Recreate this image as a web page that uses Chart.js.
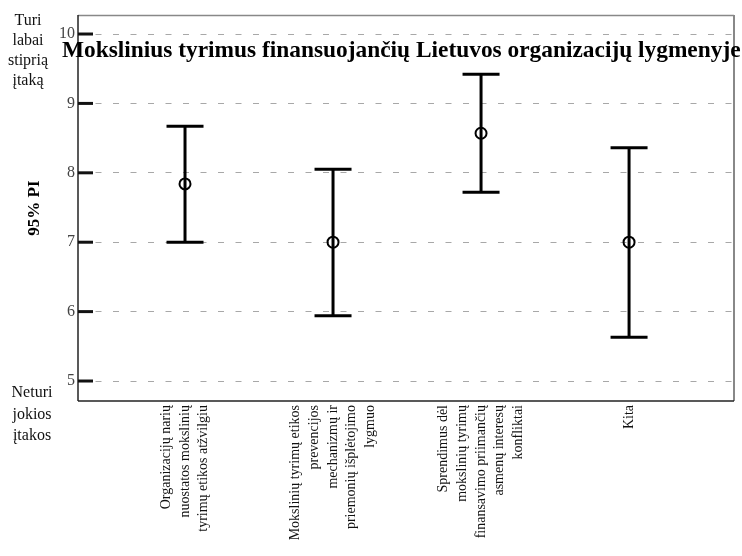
<!DOCTYPE html>
<html><head><meta charset="utf-8">
<script src="https://cdn.jsdelivr.net/npm/chart.js@4"></script>
<style>html,body{margin:0;padding:0;background:#fff}canvas{display:block}</style>
</head><body>
<canvas id="c" width="742" height="556"></canvas>
<script>
const chartTitle = "Mokslinius tyrimus finansuojančių Lietuvos organizacijų lygmenyje";
const categories = [
  ["Organizacijų narių", "nuostatos mokslinių", "tyrimų etikos atžvilgiu"],
  ["Mokslinių tyrimų etikos", "prevencijos", "mechanizmų ir", "priemonių išplėtojimo", "lygmuo"],
  ["Sprendimus dėl", "mokslinių tyrimų", "finansavimo priimančių", "asmenų interesų", "konfliktai"],
  ["Kita"]
];
const positions = [1, 2, 3, 4];
const means = [7.84, 7.00, 8.57, 7.00];
const lower = [7.00, 5.94, 7.72, 5.63];
const upper = [8.67, 8.05, 9.42, 8.36];
const yTicks = [5, 6, 7, 8, 9, 10];
const topNote = ["Turi", "labai", "stiprią", "įtaką"];
const bottomNote = ["Neturi", "jokios", "įtakos"];
const yTitle = "95% PI";

const SERIF = '"Liberation Serif", "Times New Roman", serif';

const datasets = [];
positions.forEach((p, i) => {
  datasets.push({
    type: 'scatter', showLine: true,
    data: [{x: p, y: lower[i]}, {x: p, y: upper[i]}],
    borderColor: '#000', borderWidth: 3, pointRadius: 0, order: 3
  });
});
datasets.push({
  type: 'scatter',
  data: positions.flatMap((p, i) => [{x: p, y: lower[i]}, {x: p, y: upper[i]}]),
  pointStyle: 'line', pointRadius: 18.5, borderColor: '#000', borderWidth: 3, order: 2
});
datasets.push({
  type: 'scatter',
  data: positions.map((p, i) => ({x: p, y: means[i]})),
  pointStyle: 'circle', pointRadius: 5.5, borderColor: '#000', borderWidth: 2,
  backgroundColor: 'rgba(0,0,0,0)', order: 1
});

const decor = {
  id: 'decor',
  beforeDatasetsDraw(chart) {
    const {ctx, chartArea: a} = chart;
    ctx.save();
    ctx.strokeStyle = '#888'; ctx.lineWidth = 1.5;
    ctx.beginPath(); ctx.moveTo(a.left, a.top + 0.5); ctx.lineTo(a.right, a.top + 0.5); ctx.stroke();
    ctx.lineWidth = 2;
    ctx.beginPath(); ctx.moveTo(a.right, a.top); ctx.lineTo(a.right, a.bottom); ctx.stroke();
    ctx.strokeStyle = '#222'; ctx.lineWidth = 1.5;
    ctx.beginPath(); ctx.moveTo(a.left, a.top); ctx.lineTo(a.left, a.bottom); ctx.stroke();
    ctx.beginPath(); ctx.moveTo(a.left, a.bottom); ctx.lineTo(a.right, a.bottom); ctx.stroke();
    const y = chart.scales.y;
    ctx.lineWidth = 3; ctx.strokeStyle = '#111';
    yTicks.forEach(v => {
      const py = y.getPixelForValue(v);
      ctx.beginPath(); ctx.moveTo(a.left, py); ctx.lineTo(a.left + 15, py); ctx.stroke();
    });
    ctx.restore();
  },
  afterDraw(chart) {
    const {ctx, chartArea: a} = chart;
    const x = chart.scales.x;
    ctx.save();
    ctx.fillStyle = '#111';
    ctx.font = '14px ' + SERIF;
    ctx.textAlign = 'right';
    ctx.textBaseline = 'middle';
    const LH = 18.75;
    categories.forEach((lines, i) => {
      const px = x.getPixelForValue(positions[i]);
      const n = lines.length;
      lines.forEach((t, j) => {
        const cx = px + (j - (n - 1) / 2) * LH;
        ctx.save();
        ctx.translate(cx, a.bottom + 4);
        ctx.rotate(-Math.PI / 2);
        ctx.fillText(t, 0, 0);
        ctx.restore();
      });
    });
    ctx.textAlign = 'center';
    ctx.textBaseline = 'alphabetic';
    ctx.font = '16px ' + SERIF;
    topNote.forEach((t, j) => ctx.fillText(t, 28, 25 + j * 20));
    bottomNote.forEach((t, j) => ctx.fillText(t, 32, 397 + j * 21.5));
    let size = 20;
    ctx.font = 'bold ' + size + 'px ' + SERIF;
    const w = ctx.measureText(chartTitle).width;
    size = size * 679 / w;
    ctx.font = 'bold ' + size.toFixed(2) + 'px ' + SERIF;
    ctx.textAlign = 'left';
    ctx.fillStyle = '#000';
    ctx.fillText(chartTitle, 62, 57);
    ctx.restore();
  }
};

new Chart(document.getElementById('c'), {
  type: 'scatter',
  data: {datasets},
  options: {
    responsive: false,
    animation: false,
    layout: {autoPadding: false, padding: {left: 0, top: 15, right: 8, bottom: 0}},
    plugins: {legend: {display: false}, tooltip: {enabled: false}, title: {display: false}},
    scales: {
      x: {
        type: 'linear', min: 0.277, max: 4.709,
        afterBuildTicks: s => { s.ticks = positions.map(v => ({value: v})); },
        afterFit: s => { s.height = 155; },
        grid: {display: false, drawTicks: false},
        border: {display: false},
        ticks: {display: false}
      },
      y: {
        type: 'linear', min: 4.712, max: 10.274,
        afterBuildTicks: s => { s.ticks = yTicks.map(v => ({value: v})); },
        afterFit: s => { s.width = 78; },
        grid: {color: '#a8a8a8', lineWidth: 1, drawTicks: false, borderDash: [6, 11.5]},
        border: {display: false, dash: [6, 11.5]},
        ticks: {
          padding: 3, color: '#444',
          font: {family: SERIF, size: 16},
          callback: v => String(v)
        },
        title: {
          display: true, text: yTitle, color: '#000',
          font: {family: SERIF, size: 17, weight: 'bold'},
          padding: {top: 24, bottom: 0}
        }
      }
    }
  },
  plugins: [decor]
});
</script>
</body></html>
